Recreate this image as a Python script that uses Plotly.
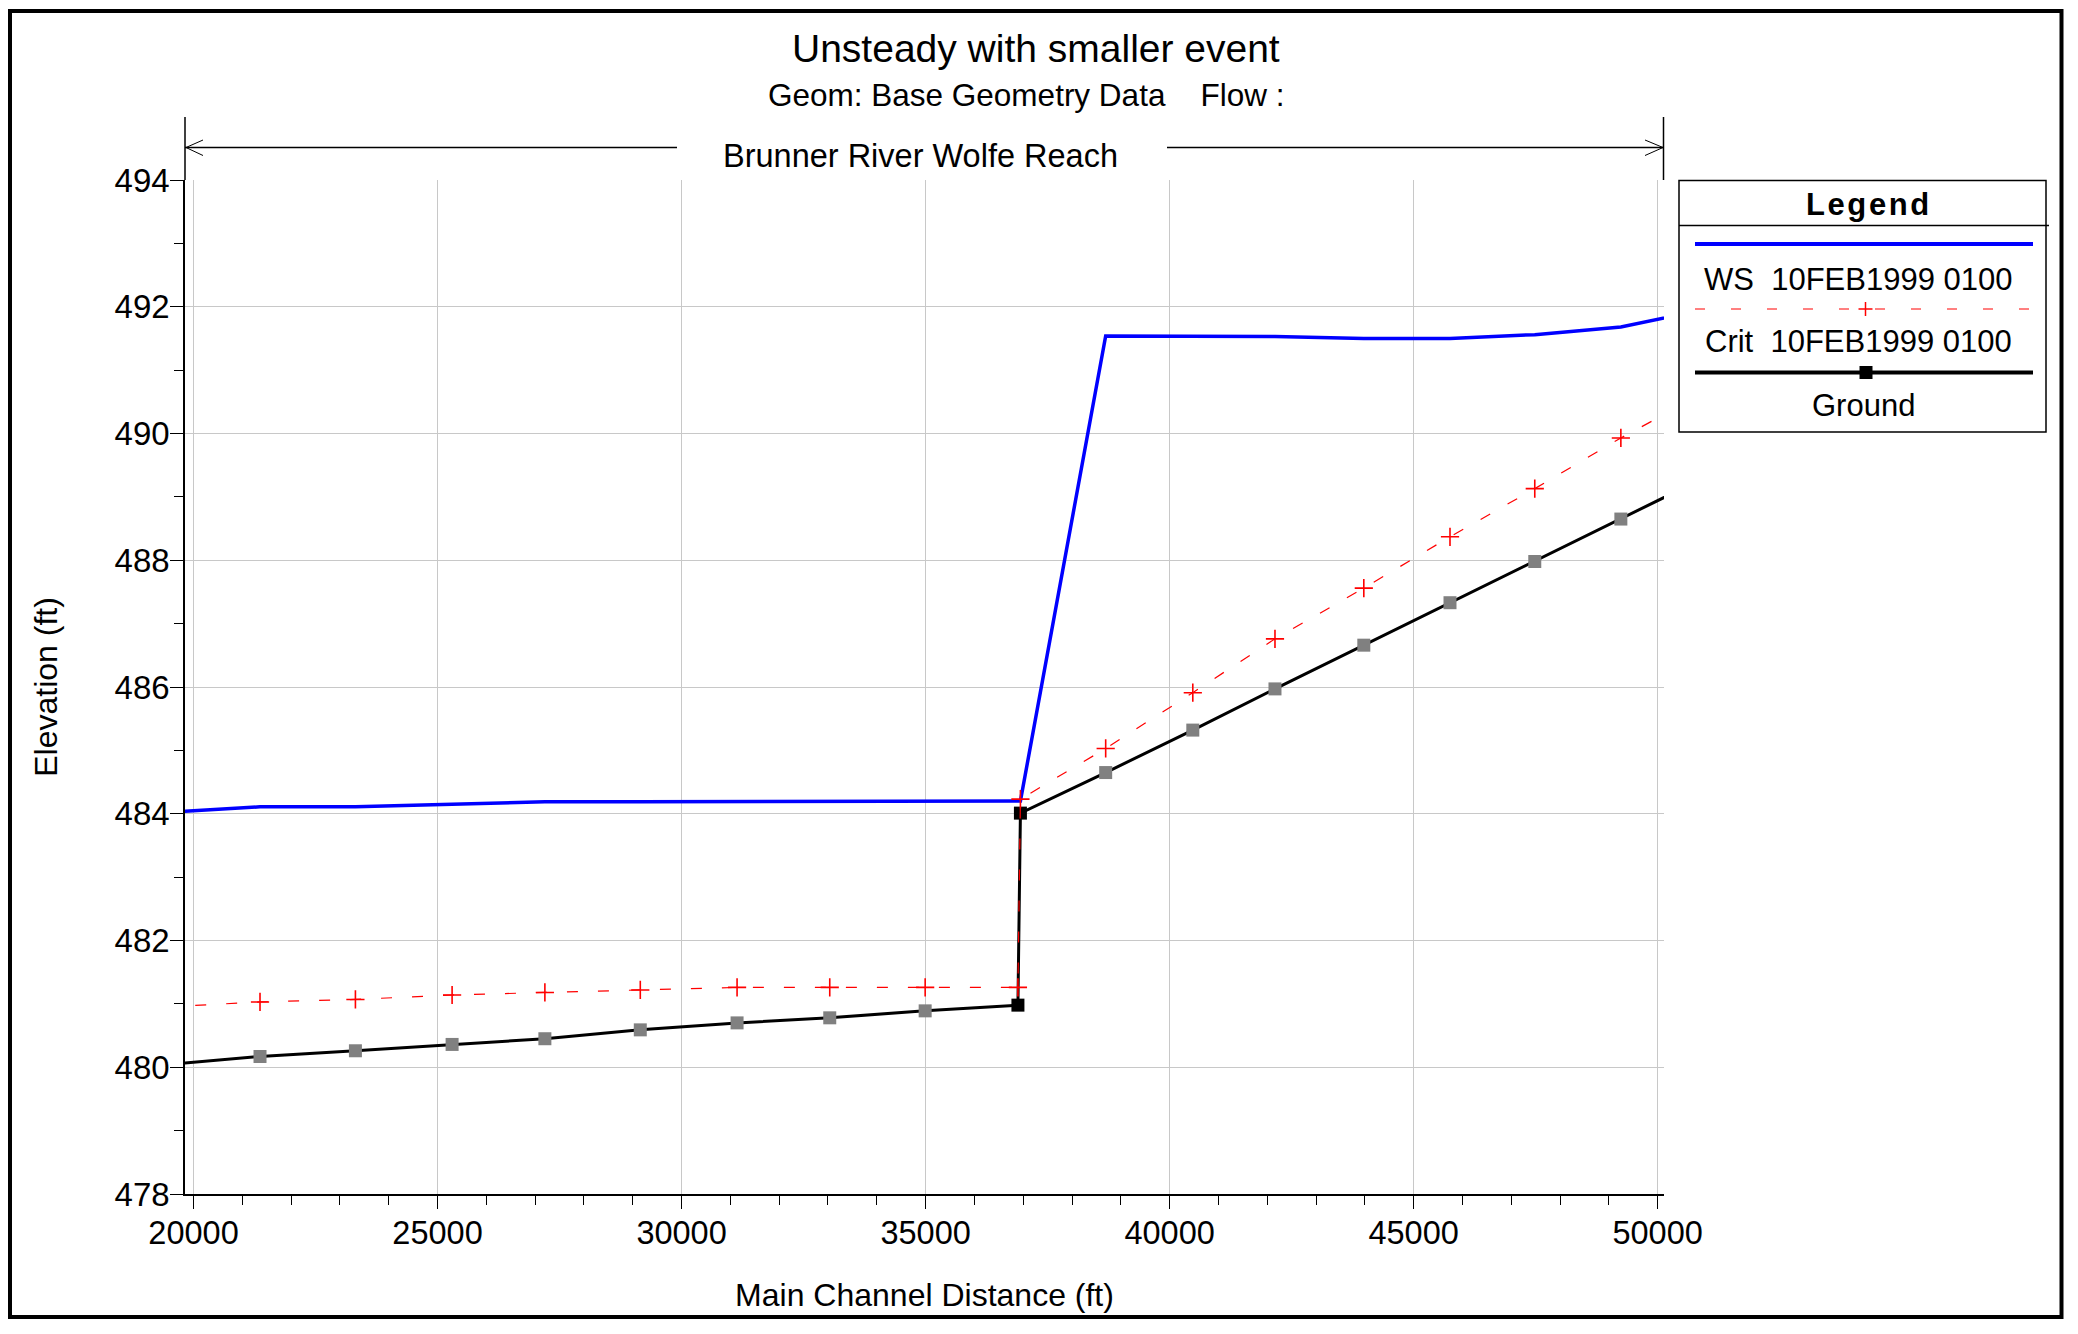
import plotly.graph_objects as go

# ---------------- data ----------------
stations = [19400, 21362, 23317, 25298, 27199, 29154, 31137, 33036, 34991, 36892,
            36943, 38690, 40475, 42159, 43979, 45745, 47482, 49246, 51000]
ground = [480.04, 480.17, 480.26, 480.36, 480.45, 480.59, 480.70, 480.78, 480.89, 480.98,
          484.01, 484.65, 485.32, 485.97, 486.66, 487.33, 487.98, 488.65, 489.32]
ws = [484.02, 484.11, 484.11, 484.15, 484.19, 484.19, 484.19, 484.19, 484.19, 484.19,
      484.20, 491.54, 491.53, 491.53, 491.50, 491.50, 491.56, 491.68, 491.96]
crit = [480.95, 481.03, 481.07, 481.14, 481.18, 481.22, 481.26, 481.26, 481.26, 481.26,
        484.23, 485.03, 485.91, 486.76, 487.56, 488.37, 489.13, 489.93, 490.66]
ground_marker_colors = ["#808080"] * 9 + ["#000000", "#000000"] + ["#808080"] * 8

x_ticks = [20000, 25000, 30000, 35000, 40000, 45000, 50000]
y_ticks = [478, 480, 482, 484, 486, 488, 490, 492, 494]

title_text = "Unsteady with smaller event"
subtitle_text = "Geom: Base Geometry Data\u00a0\u00a0\u00a0\u00a0Flow :"
reach_text = "Brunner River Wolfe Reach"
legend_title = "\u200a".join("Legend")
legend_labels = ["WS\u00a0\u00a010FEB1999 0100", "Crit\u00a0\u00a010FEB1999 0100", "Ground"]

FONT = "Liberation Sans, Arial, sans-serif"
OFF = 8                      # default page body margin
W, H = 2078 - 2 * OFF, 1334 - 2 * OFF
L, R, T, B = 185, 1664, 180, 1194   # plot area in page pixels


def px(X):
    return (X - L) / (R - L)


def py(Y):
    return (B - Y) / (B - T)


fig = go.Figure()

fig.add_trace(go.Scatter(
    x=stations, y=ground, mode="lines+markers", name="Ground",
    line=dict(color="black", width=3),
    marker=dict(symbol="square", size=13, color=ground_marker_colors, line=dict(width=0)),
    showlegend=False))

fig.add_trace(go.Scatter(
    x=stations, y=ws, mode="lines", name=legend_labels[0],
    line=dict(color="#0000FF", width=3.5),
    showlegend=False))

fig.add_trace(go.Scatter(
    x=stations, y=crit, mode="lines+markers", name=legend_labels[1],
    line=dict(color="#FF0000", width=1.2, dash="11px,20px"),
    marker=dict(symbol="cross-thin", size=13, color="#FF0000",
                line=dict(color="#FF0000", width=1.6)),
    showlegend=False))

shapes = []
annotations = []

# outer border
shapes.append(dict(type="rect", xref="paper", yref="paper",
                   x0=px(10), x1=px(2061.5), y0=py(11), y1=py(1317),
                   line=dict(color="black", width=4)))

# reach arrow
ya = py(147.5)
shapes += [
    dict(type="line", xref="paper", yref="paper", x0=px(185), x1=px(185), y0=py(117), y1=py(180),
         line=dict(color="black", width=1.5)),
    dict(type="line", xref="paper", yref="paper", x0=px(1663.5), x1=px(1663.5), y0=py(117), y1=py(180),
         line=dict(color="black", width=1.5)),
    dict(type="line", xref="paper", yref="paper", x0=px(185), x1=px(677), y0=ya, y1=ya,
         line=dict(color="black", width=1.5)),
    dict(type="line", xref="paper", yref="paper", x0=px(1167), x1=px(1663.5), y0=ya, y1=ya,
         line=dict(color="black", width=1.5)),
    dict(type="line", xref="paper", yref="paper", x0=px(186), x1=px(203), y0=ya, y1=py(140),
         line=dict(color="black", width=1)),
    dict(type="line", xref="paper", yref="paper", x0=px(186), x1=px(203), y0=ya, y1=py(155.5),
         line=dict(color="black", width=1)),
    dict(type="line", xref="paper", yref="paper", x0=px(1663), x1=px(1645), y0=ya, y1=py(140),
         line=dict(color="black", width=1)),
    dict(type="line", xref="paper", yref="paper", x0=px(1663), x1=px(1645), y0=ya, y1=py(155.5),
         line=dict(color="black", width=1)),
]

annotations += [
    dict(text=title_text, xref="paper", yref="paper", x=px(1036), y=py(48),
         xanchor="center", yanchor="middle", showarrow=False,
         font=dict(family=FONT, size=39, color="black")),
    dict(text=subtitle_text, xref="paper", yref="paper", x=px(1026), y=py(95),
         xanchor="center", yanchor="middle", showarrow=False,
         font=dict(family=FONT, size=31.5, color="black")),
    dict(text=reach_text, xref="paper", yref="paper", x=px(920), y=py(156),
         xanchor="center", yanchor="middle", showarrow=False,
         font=dict(family=FONT, size=32.5, color="black")),
]

# legend box (drawn)
lx0, lx1, ly0, ly1 = 1679, 2046, 180.5, 432
lcx = (lx0 + lx1) / 2 + 3
shapes += [
    dict(type="rect", xref="paper", yref="paper", x0=px(lx0), x1=px(lx1), y0=py(ly0), y1=py(ly1),
         line=dict(color="black", width=1.5), fillcolor="white"),
    dict(type="line", xref="paper", yref="paper", x0=px(lx0), x1=px(lx1 + 3), y0=py(225.5), y1=py(225.5),
         line=dict(color="black", width=1.5)),
    dict(type="line", xref="paper", yref="paper", x0=px(1695), x1=px(2033), y0=py(244), y1=py(244),
         line=dict(color="#0000FF", width=4)),
    dict(type="line", xref="paper", yref="paper", x0=px(1695), x1=px(2033), y0=py(309), y1=py(309),
         line=dict(color="#FF0000", width=1, dash="10px,26px")),
    dict(type="line", xref="paper", yref="paper", x0=px(lcx - 7), x1=px(lcx + 7), y0=py(309), y1=py(309),
         line=dict(color="#FF0000", width=1.5)),
    dict(type="line", xref="paper", yref="paper", x0=px(lcx), x1=px(lcx), y0=py(302), y1=py(316),
         line=dict(color="#FF0000", width=1.5)),
    dict(type="line", xref="paper", yref="paper", x0=px(1695), x1=px(2033), y0=py(372.5), y1=py(372.5),
         line=dict(color="black", width=4)),
    dict(type="rect", xref="paper", yref="paper", x0=px(lcx - 6), x1=px(lcx + 7), y0=py(366), y1=py(379),
         line=dict(width=0), fillcolor="black"),
]
annotations += [
    dict(text="<b>" + legend_title + "</b>", xref="paper", yref="paper", x=px(lcx + 2), y=py(204),
         xanchor="center", yanchor="middle", showarrow=False,
         font=dict(family=FONT, size=31, color="black")),
    dict(text=legend_labels[0], xref="paper", yref="paper", x=px(1858), y=py(279),
         xanchor="center", yanchor="middle", showarrow=False,
         font=dict(family=FONT, size=31, color="black")),
    dict(text=legend_labels[1], xref="paper", yref="paper", x=px(1858), y=py(341),
         xanchor="center", yanchor="middle", showarrow=False,
         font=dict(family=FONT, size=31, color="black")),
    dict(text=legend_labels[2], xref="paper", yref="paper", x=px(1863), y=py(405),
         xanchor="center", yanchor="middle", showarrow=False,
         font=dict(family=FONT, size=31, color="black")),
]

fig.update_layout(
    width=W, height=H,
    margin=dict(l=L - OFF, r=W - (R - OFF), t=T - OFF, b=H - (B - OFF), autoexpand=False),
    paper_bgcolor="white", plot_bgcolor="white",
    font=dict(family=FONT, color="black"),
    showlegend=False,
    shapes=shapes,
    annotations=annotations,
    xaxis=dict(
        range=[19825, 50130], tickvals=x_ticks, ticktext=[str(v) for v in x_ticks],
        showline=True, linecolor="black", linewidth=1.5, mirror=False,
        ticks="outside", ticklen=13, tickwidth=1, tickcolor="black",
        showgrid=True, gridcolor="#C8C8C8", gridwidth=1, zeroline=False,
        tickfont=dict(family=FONT, size=32.5, color="black"), ticklabelstandoff=-4,
        minor=dict(dtick=1000, tick0=0, ticks="outside", ticklen=9, tickcolor="black", showgrid=False),
        title=dict(text="Main Channel Distance (ft)", standoff=34,
                   font=dict(family=FONT, size=32, color="black")),
    ),
    yaxis=dict(
        range=[478, 494], tickvals=y_ticks, ticktext=[str(v) for v in y_ticks],
        showline=True, linecolor="black", linewidth=1.5, mirror=False,
        ticks="outside", ticklen=13, tickwidth=1, tickcolor="black",
        showgrid=True, gridcolor="#C8C8C8", gridwidth=1, zeroline=False,
        tickfont=dict(family=FONT, size=33, color="black"), ticklabelstandoff=-6,
        minor=dict(dtick=1, tick0=0, ticks="outside", ticklen=9, tickcolor="black", showgrid=False),
        title=dict(text="Elevation (ft)", standoff=47,
                   font=dict(family=FONT, size=32, color="black")),
    ),
)

fig.write_html("out.html")
